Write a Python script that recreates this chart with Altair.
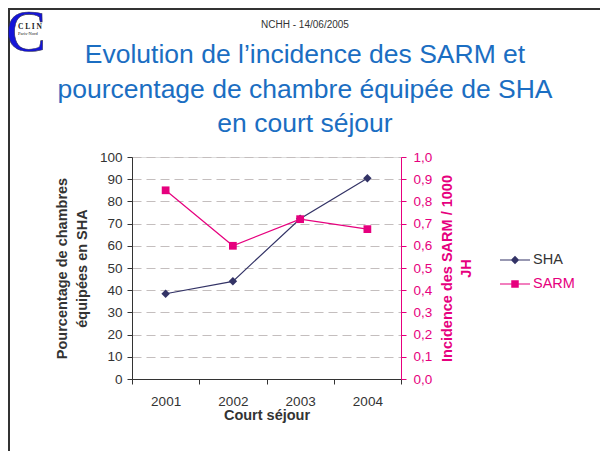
import altair as alt
import pandas as pd

# ---- data ----
years = ["2001", "2002", "2003", "2004"]
sha = [38.4, 44.0, 72.2, 90.4]          # % chambres équipées en SHA (left axis)
sarm = [0.85, 0.60, 0.72, 0.675]        # incidence SARM / 1000 JH (right axis)
series = ["SHA", "SARM"]
left_ticks = [0, 10, 20, 30, 40, 50, 60, 70, 80, 90, 100]
right_ticks = [0.0, 0.1, 0.2, 0.3, 0.4, 0.5, 0.6, 0.7, 0.8, 0.9, 1.0]
header_text = "NCHH - 14/06/2005"
title_lines = ["Evolution de l’incidence des SARM et",
               "pourcentage de chambre équipée de SHA",
               "en court séjour"]

NAVY = "#333366"
PINK = "#E6007E"
BLUE = "#1B6EC2"
GRID = "#C4BEBE"
DARK = "#333333"
FONT = "Liberation Sans"

W, H = 269, 222
PAD_L, PAD_T = 124, 149
TOTAL_W, TOTAL_H = 592, 443

df = pd.DataFrame({"year": years, "sha": sha, "sarm": sarm})
legend_df = pd.DataFrame({"serie": series})

x_enc = alt.X(
    "year:O",
    scale=alt.Scale(type="band", paddingInner=0, paddingOuter=0),
    bandPosition=0.5,
    axis=alt.Axis(
        title="Court séjour", labelAngle=0, tickBand="extent",
        domainColor=DARK, tickColor=DARK, tickSize=5, labelFontSize=13.5,
        labelColor=DARK, labelPadding=10, titleFontSize=14.5, titleFontWeight="bold",
        titleColor=DARK, titlePadding=1, labelFont=FONT, titleFont=FONT,
    ),
)

base = alt.Chart(df)

y_left = alt.Y(
    "sha:Q",
    scale=alt.Scale(domain=[0, 100], nice=False),
    axis=alt.Axis(
        values=left_ticks, title=["Pourcentage de chambres", "équipées en SHA"],
        grid=True, gridColor=GRID, gridDash=[9, 5], gridWidth=1.2,
        domainColor=DARK, tickColor=DARK, tickSize=5, labelFontSize=13.5,
        labelColor=DARK, labelPadding=5, titleFontSize=14.5, titleFontWeight="bold",
        titleColor=DARK, titleLineHeight=20, titlePadding=10,
        labelFont=FONT, titleFont=FONT,
    ),
)

y_right = alt.Y(
    "sarm:Q",
    scale=alt.Scale(domain=[0, 1], nice=False),
    axis=alt.Axis(
        orient="right", values=right_ticks,
        labelExpr="replace(format(datum.value, '.1f'), '.', ',')",
        title=["Incidence des SARM / 1000", "JH"], grid=False,
        domainColor=PINK, tickColor=PINK, tickSize=5, labelFontSize=13.5,
        labelColor=PINK, labelPadding=7, titleFontSize=14.5, titleFontWeight="bold",
        titleColor=PINK, titleLineHeight=19, titlePadding=-10, titleAngle=270,
        titleBaseline="top", labelFont=FONT, titleFont=FONT,
    ),
)

sha_layer = alt.layer(
    base.mark_line(color=NAVY, strokeWidth=1.2).encode(x=x_enc, y=y_left),
    base.mark_point(shape="diamond", filled=True, color=NAVY, size=72, opacity=1).encode(x=x_enc, y=y_left),
)

sarm_layer = alt.layer(
    base.mark_line(color=PINK, strokeWidth=1.2).encode(x=x_enc, y=y_right),
    base.mark_point(shape="square", filled=True, color=PINK, size=60, opacity=1).encode(x=x_enc, y=y_right),
)

# legend symbols: short line with marker in the middle (custom paths)
diamond_path = "M-1,-0.04H1V0.04H-1Z M0,-0.28L0.28,0L0,0.28L-0.28,0Z"
square_path = "M-1,-0.04H1V0.04H-1Z M-0.25,-0.25H0.25V0.25H-0.25Z"

legend_layer = alt.Chart(legend_df).mark_point(filled=True, opacity=1).encode(
    x=alt.value(-2000), y=alt.value(-2000),
    shape=alt.Shape("serie:N", scale=alt.Scale(domain=series, range=[diamond_path, square_path]),
                    legend=alt.Legend(title=None)),
    color=alt.Color("serie:N", scale=alt.Scale(domain=series, range=[NAVY, PINK]),
                    legend=alt.Legend(
                        title=None, orient="none", legendX=368, legendY=88,
                        symbolSize=900, symbolStrokeWidth=0, symbolOpacity=1,
                        labelFontSize=14.5, labelFont=FONT, labelOffset=3, rowPadding=2,
                        labelColor={"expr": "datum.label == 'SARM' ? '%s' : '%s'" % (PINK, DARK)},
                    )),
)

one = alt.Data(values=[{}])
frame_left = alt.Chart(one).mark_rule(color="#333333", strokeWidth=2).encode(
    x=alt.value(-123), y=alt.value(-149), y2=alt.value(TOTAL_H - PAD_T))
frame_top = alt.Chart(one).mark_rule(color="#333333", strokeWidth=2).encode(
    x=alt.value(-124), x2=alt.value(TOTAL_W - PAD_L), y=alt.value(-148))
logo_c = alt.Chart(one).mark_text(text="C", font="Liberation Serif", fontSize=60, color="#1414D8",
                                   stroke="#333355", strokeWidth=0.6, align="center", baseline="alphabetic").encode(
    x=alt.value(-106), y=alt.value(-106))
logo_clin = alt.Chart(one).mark_text(text="C L I N", font="Liberation Serif", fontSize=7.5, fontWeight="bold",
                                      color="#222222", align="left").encode(
    x=alt.value(-114), y=alt.value(-130))
logo_pn = alt.Chart(one).mark_text(text="Paris-Nord", font="Liberation Serif", fontSize=4.5,
                                    color="#222222", align="left").encode(
    x=alt.value(-114), y=alt.value(-123))

header = alt.Chart(one).mark_text(text=header_text, font=FONT, fontSize=10, color=DARK,
                                   align="center", baseline="alphabetic").encode(
    x=alt.value(173), y=alt.value(-129))
title = alt.Chart(one).mark_text(text=title_lines, font=FONT, fontSize=26.5, color=BLUE,
                                  lineHeight=34.5, align="center", baseline="alphabetic").encode(
    x=alt.value(173), y=alt.value(-94))

data_layers = alt.layer(sha_layer, sarm_layer).resolve_scale(y="independent")

chart = alt.layer(
    data_layers, legend_layer, frame_left, frame_top, logo_c, logo_clin, logo_pn, header, title
).resolve_scale(
    y="independent"
).properties(
    width=W, height=H,
    padding={"left": PAD_L, "top": PAD_T, "right": TOTAL_W - PAD_L - W, "bottom": TOTAL_H - PAD_T - H},
    autosize=alt.AutoSizeParams(type="none"),
).configure_view(stroke=None).configure(background="white")

chart.save("out.html", embed_options={"renderer": "svg", "actions": False})
